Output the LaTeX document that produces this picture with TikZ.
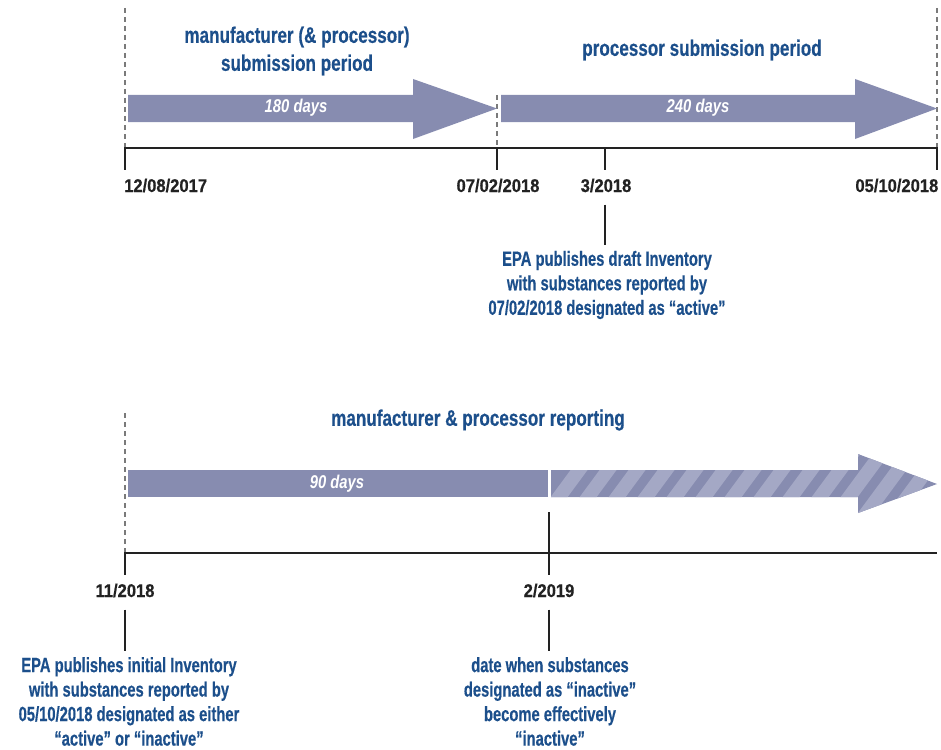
\documentclass[tikz,border=0pt]{standalone}
\usepackage{fontspec}
\setmainfont{Liberation Sans}
\newfontfamily\titlefont{Liberation Sans}[FakeStretch=0.76,FakeBold=0.4]
\newfontfamily\notefont{Liberation Sans}[FakeStretch=0.72,FakeBold=0.4]
\newfontfamily\datefont{Liberation Sans}[FakeStretch=0.9,FakeBold=0.5]
\newfontfamily\daysfont{Liberation Sans}[FakeStretch=0.8]
\definecolor{arrowc}{HTML}{878CB0}
\definecolor{hatchc}{HTML}{A4A8C5}
\definecolor{bluet}{HTML}{1C4F8B}
\definecolor{linec}{HTML}{222222}
\definecolor{dashc}{HTML}{7A7A7A}
\begin{document}
\begin{tikzpicture}[x=1pt,y=-1pt,
  titletxt/.style={text=bluet,font=\titlefont\bfseries\fontsize{22.5}{28}\selectfont,align=center,inner sep=0pt},
  notetxt/.style={text=bluet,font=\notefont\bfseries\fontsize{20.5}{24.5}\selectfont,align=center,inner sep=0pt},
  datetxt/.style={text=linec,font=\datefont\bfseries\fontsize{18.4}{22}\selectfont,inner sep=0pt},
  daystxt/.style={text=white,font=\daysfont\bfseries\itshape\fontsize{18.5}{22}\selectfont,inner sep=0pt},
  tline/.style={draw=linec,line width=2pt},
  tick/.style={draw=linec,line width=1.8pt},
  dashln/.style={draw=dashc,line width=1.4pt,dash pattern=on 5pt off 4pt},
  bigarrow/.style={fill=arrowc,draw=none}
]
\useasboundingbox (0,0) rectangle (941,749);

% ---------- top part ----------
\draw[dashln] (125,8) -- (125,148);
\draw[dashln] (497,95) -- (497,148);
\draw[dashln] (937,8) -- (937,148);

\path[bigarrow] (128,95) -- (413,95) -- (413,79) -- (497,108.5) -- (413,139) -- (413,122) -- (128,122) -- cycle;
\path[bigarrow] (501,95) -- (855,95) -- (855,79) -- (937,108.5) -- (855,139) -- (855,122) -- (501,122) -- cycle;

\node[daystxt] (d180) at (296,108) {180 days};
\node[daystxt] (d240) at (698,108) {240 days};

\node[titletxt] (t1) at (297,51) {manufacturer (\& processor)\\submission period};
\node[titletxt] (t2) at (702,50) {processor submission period};

\coordinate (a0) at (125,148);
\coordinate (a1) at (497,148);
\coordinate (a2) at (605,148);
\coordinate (a3) at (937,148);
\draw[tline] ([xshift=-1pt]a0) -- ([xshift=1pt]a3);
\foreach \c in {a0,a1,a2,a3} \draw[tick] (\c) -- ++(0,22);

\node[datetxt,anchor=base west] (l0) at (124,192) {12/08/2017};
\node[datetxt,anchor=base] (l1) at (498,192) {07/02/2018};
\node[datetxt,anchor=base] (l2) at (606,192) {3/2018};
\node[datetxt,anchor=base east] (l3) at (938.5,192) {05/10/2018};

\node[notetxt] (n1) at (607,285) {EPA publishes draft Inventory\\with substances reported by\\07/02/2018 designated as “active”};
\draw[tick] ([yshift=-12pt]l2.south -| a2) -- ([yshift=6pt]n1.north -| a2);

% ---------- bottom part ----------
\node[titletxt] (t3) at (478,420) {manufacturer \& processor reporting};
\draw[dashln] (125,413) -- (125,553);

\path[bigarrow] (128,470) rectangle (548,497);
\node[daystxt] (d90) at (337,484) {90 days};

\begin{scope}
  \clip (551,470) -- (858,470) -- (858,454) -- (937,484) -- (858,513) -- (858,497) -- (551,497) -- cycle;
  \fill[arrowc] (540,440) rectangle (945,525);
  \foreach \s in {0,29,...,435}
    \fill[hatchc] (530+\s,525) -- (547+\s,525) -- (606+\s,445) -- (589+\s,445) -- cycle;
\end{scope}

\coordinate (b0) at (125,553);
\coordinate (b1) at (549,553);
\coordinate (b2) at (937,553);
\draw[tline] ([xshift=-1pt]b0) -- (b2);
\draw[tick] (b0) -- ++(0,22);
\draw[tick] (549,512) -- (549,575);

\node[datetxt,anchor=base] (m0) at (125,597) {11/2018};
\node[datetxt,anchor=base] (m1) at (549,597) {2/2019};

\node[notetxt] (n2) at (129,701.5) {EPA publishes initial Inventory\\with substances reported by\\05/10/2018 designated as either\\“active” or “inactive”};
\node[notetxt] (n3) at (550,701.5) {date when substances\\designated as “inactive”\\become effectively\\“inactive”};
\draw[tick] ([yshift=-12pt]m0.south) -- ([yshift=6pt]n2.north -| m0.south);
\draw[tick] ([yshift=-12pt]m1.south) -- ([yshift=6pt]n3.north -| m1.south);
\end{tikzpicture}
\end{document}
